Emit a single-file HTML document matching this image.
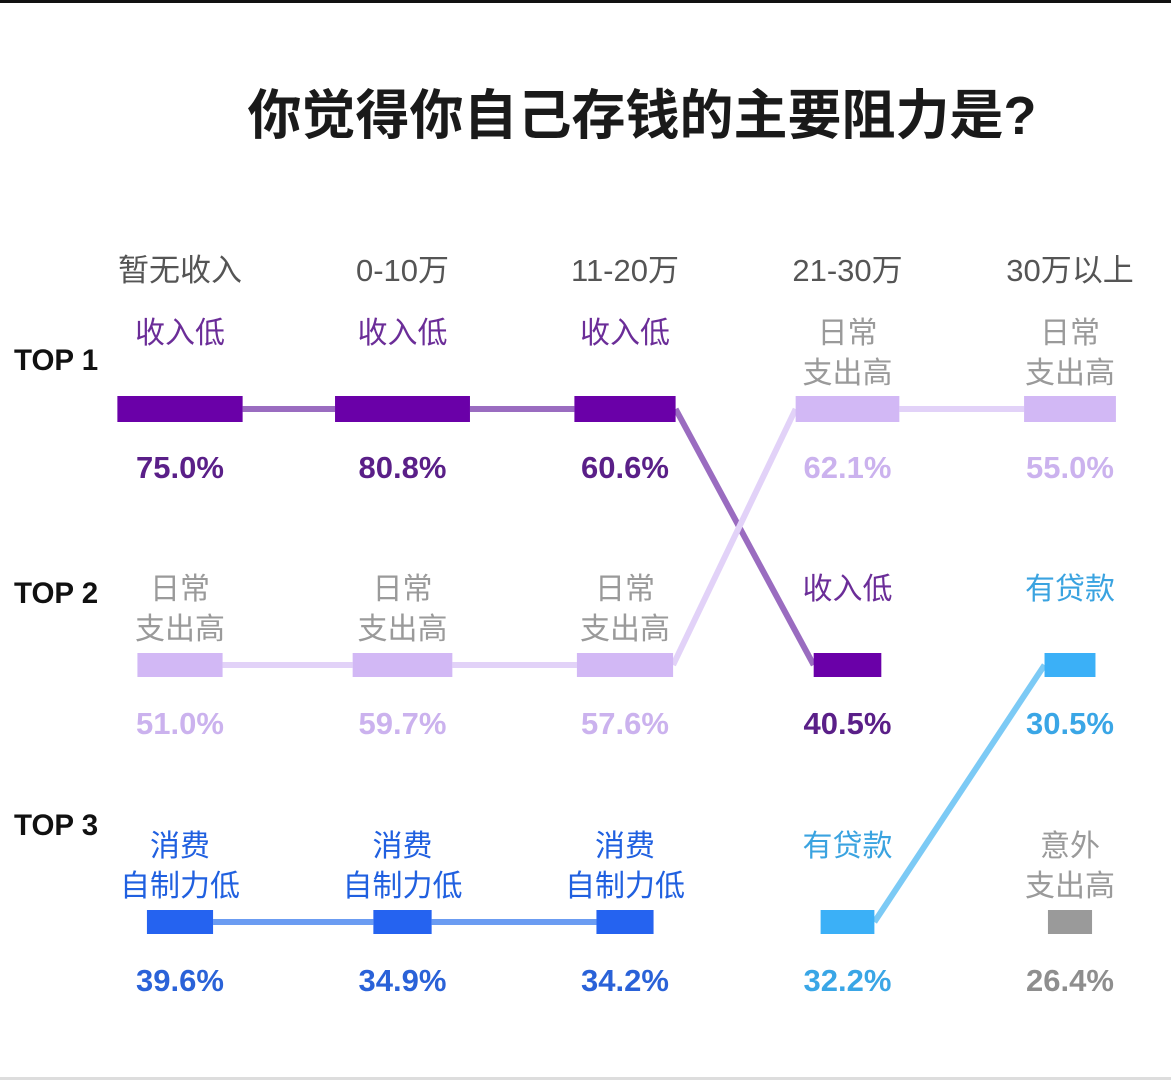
<!DOCTYPE html>
<html><head><meta charset="utf-8">
<style>
html,body{margin:0;padding:0;background:#fff;}
body{width:1171px;height:1080px;overflow:hidden;position:relative;font-family:"Liberation Sans","Noto Sans CJK SC",sans-serif;}
svg text{font-family:"Liberation Sans","Noto Sans CJK SC",sans-serif;}
</style></head>
<body>
<div style="position:absolute;left:0;top:0;width:1171px;height:3px;background:#111"></div>
<div style="position:absolute;left:0;top:1077px;width:1171px;height:3px;background:#ddd"></div>
<svg id="chart" width="1171" height="1080" style="position:absolute;left:0;top:0">
<text x="642" y="134" text-anchor="middle" font-size="54" font-weight="bold" fill="#1a1a1a">你觉得你自己存钱的主要阻力是?</text>
<text x="14" y="370" font-size="29.5" font-weight="bold" fill="#111">TOP 1</text>
<text x="14" y="603" font-size="29.5" font-weight="bold" fill="#111">TOP 2</text>
<text x="14" y="835" font-size="29.5" font-weight="bold" fill="#111">TOP 3</text>
<g id="lines"></g><g id="bars"></g><g id="texts"></g>
</svg>
<script>
const columns = ["暂无收入","0-10万","11-20万","21-30万","30万以上"];
const top1Cat = ["收入低","收入低","收入低","日常支出高","日常支出高"];
const top1Val = [75.0,80.8,60.6,62.1,55.0];
const top2Cat = ["日常支出高","日常支出高","日常支出高","收入低","有贷款"];
const top2Val = [51.0,59.7,57.6,40.5,30.5];
const top3Cat = ["消费自制力低","消费自制力低","消费自制力低","有贷款","意外支出高"];
const top3Val = [39.6,34.9,34.2,32.2,26.4];

const style = {
  "收入低":{bar:"#6a00a8",line:"#9a6cc0",label:"#6b2d98",pct:"#5a1f88",lines:["收入低"]},
  "日常支出高":{bar:"#d2b8f5",line:"#e2d2f8",label:"#9a9a9a",pct:"#cbb2ee",lines:["日常","支出高"]},
  "消费自制力低":{bar:"#2563f0",line:"#6b9cf2",label:"#2060e0",pct:"#2a62d8",lines:["消费","自制力低"]},
  "有贷款":{bar:"#3bb0f7",line:"#7ccaf5",label:"#3aa3e0",pct:"#3aa6e6",lines:["有贷款"]},
  "意外支出高":{bar:"#9a9a9a",line:"#bbb",label:"#9a9a9a",pct:"#8e8e8e",lines:["意外","支出高"]}
};
const colX = i => 180 + i*222.5;
const rowY = r => [409,665,922][r];
const barW = v => v*1.67;
const barH = r => r===0?26:24;
const NS="http://www.w3.org/2000/svg";
function mk(tag,attrs,parent){const e=document.createElementNS(NS,tag);for(const k in attrs)e.setAttribute(k,attrs[k]);document.getElementById(parent).appendChild(e);return e;}

columns.forEach((c,i)=>{
  const t=mk("text",{x:colX(i),y:281,"text-anchor":"middle","font-size":"31",fill:"#555"},"texts");
  t.textContent=c;
  
  
});
const rows=[[top1Cat,top1Val],[top2Cat,top2Val],[top3Cat,top3Val]];
const cats=Object.keys(style);
cats.forEach(cat=>{
  const pts=[];
  columns.forEach((c,i)=>{rows.forEach((rw,r)=>{if(rw[0][i]===cat)pts.push({i,r,v:rw[1][i]});});});
  for(let k=0;k<pts.length-1;k++){
    const a=pts[k],b=pts[k+1];
    if(b.i!==a.i+1)continue;
    const l=mk("line",{x1:colX(a.i)+barW(a.v)/2,y1:rowY(a.r),x2:colX(b.i)-barW(b.v)/2,y2:rowY(b.r),stroke:style[cat].line,"stroke-width":"6"},"lines");
    
    
  }
});
rows.forEach((rw,r)=>{
  rw[0].forEach((cat,i)=>{
    const v=rw[1][i],s=style[cat],x=colX(i),y=rowY(r),h=barH(r),w=barW(v);
    const b=mk("rect",{x:x-w/2,y:y-h/2,width:w,height:h,fill:s.bar},"bars");
    
    
    s.lines.forEach((ln,k)=>{
      const t=mk("text",{x:x,y:y-77+k*40+11,"text-anchor":"middle","font-size":"30",fill:s.label},"texts");
      t.textContent=ln;
      
      
    });
    const p=mk("text",{x:x,y:y+69,"text-anchor":"middle","font-size":"31","font-weight":"bold",fill:s.pct},"texts");
    p.textContent=v.toFixed(1)+"%";
    
    
  });
});
</script>
</body></html>
